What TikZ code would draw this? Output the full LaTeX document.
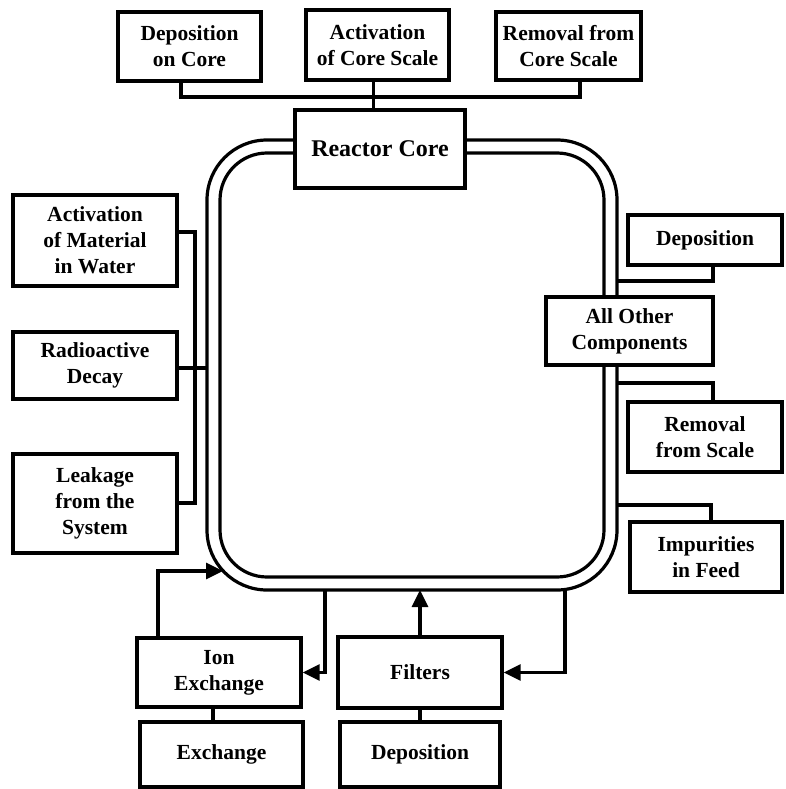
\documentclass[tikz,border=0pt]{standalone}
\usepackage{fontspec}
\setmainfont{Liberation Serif}
\usetikzlibrary{arrows.meta}
\tikzset{
  box/.style={draw, line width=3.4pt, fill=white, align=center, inner sep=0pt,
    font=\fontsize{21.5}{26}\selectfont\bfseries},
  conn/.style={line width=3.2pt},
  loopline/.style={line width=3.2pt},
  arr/.style={conn, -{Triangle[length=17pt,width=16pt]}}
}
\begin{document}
\begin{tikzpicture}[x=1pt,y=-1pt]
\useasboundingbox (0,0) rectangle (785,789);
% loop
\draw[loopline, rounded corners=60pt] (207,140) rectangle (617,590);
\draw[loopline, rounded corners=47pt] (220,153) rectangle (604,577);
% top boxes
\node[box, minimum width=143pt, minimum height=69pt] (depcore) at (189.5,46.5) {Deposition\\on Core};
\node[box, minimum width=143pt, minimum height=70pt] (actcore) at (377.5,45) {Activation\\of Core Scale};
\node[box, minimum width=145pt, minimum height=68pt] (remcore) at (568.5,46) {Removal from\\Core Scale};
\node[box, minimum width=170pt, minimum height=78pt, font=\fontsize{24}{26}\selectfont\bfseries] (reactor) at (380,149) {Reactor Core};
% left boxes
\node[box, minimum width=164pt, minimum height=91pt] (actmat) at (95,240.5) {Activation\\of Material\\in Water};
\node[box, minimum width=164pt, minimum height=67pt] (decay) at (95,365.5) {Radioactive\\Decay};
\node[box, minimum width=164pt, minimum height=99pt] (leak) at (95,503.5) {Leakage\\from the\\System};
% right boxes
\node[box, minimum width=154pt, minimum height=50pt] (dep) at (705,240) {Deposition};
\node[box, minimum width=167pt, minimum height=68pt] (other) at (629.5,331) {All Other\\Components};
\node[box, minimum width=154pt, minimum height=70pt] (remscale) at (705,437) {Removal\\from Scale};
\node[box, minimum width=152pt, minimum height=70pt] (impur) at (706,557) {Impurities\\in Feed};
% bottom boxes
\node[box, minimum width=164pt, minimum height=69pt] (ion) at (219,672.5) {Ion\\Exchange};
\node[box, minimum width=163pt, minimum height=65pt] (exch) at (221.5,754.5) {Exchange};
\node[box, minimum width=164pt, minimum height=71pt] (filters) at (420,672.5) {Filters};
\node[box, minimum width=160pt, minimum height=65pt] (depbot) at (420,754.5) {Deposition};
% coordinates
\coordinate (busL) at (181,97);
\coordinate (busR) at (580,97);
\coordinate (lb1) at (195,232);
\coordinate (lb2) at (195,503);
\coordinate (loopL) at (207,0);
\coordinate (r1) at (617,281);
\coordinate (r2) at (617,383);
\coordinate (r3) at (617,505);
\coordinate (a1) at (223,571);
\coordinate (b1) at (325,590);
\coordinate (b2) at (565,590);
% top connectors
\draw[conn] (depcore.south -| busL) -- (busL) -- (busR) -- (remcore.south -| busR);
\draw[conn] ([xshift=-4pt]actcore.south) -- ([xshift=-4pt]actcore.south |- reactor.north);
% left connectors
\draw[conn] (actmat.east |- lb1) -- (lb1) -- (lb2) -- (leak.east |- lb2);
\draw[conn] ([yshift=-2.5pt]decay.east) -- ([yshift=-2.5pt]decay.east -| loopL);
% right connectors
\draw[conn] ([xshift=8pt]dep.south) |- (r1);
\draw[conn] (r2) -| ([xshift=8pt]remscale.north);
\draw[conn] (r3) -| ([xshift=5pt]impur.north);
% bottom connectors
\draw[arr] ([xshift=-61pt]ion.north) |- (a1);
\draw[arr] (b1) |- (ion.east);
\draw[arr] (filters.north) -- (filters.north |- b1);
\draw[arr] (b2) |- (filters.east);
\draw[conn] ([xshift=-6pt]ion.south) -- ([xshift=-6pt]ion.south |- exch.north);
\draw[conn] (filters.south) -- (depbot.north);
\end{tikzpicture}
\end{document}
